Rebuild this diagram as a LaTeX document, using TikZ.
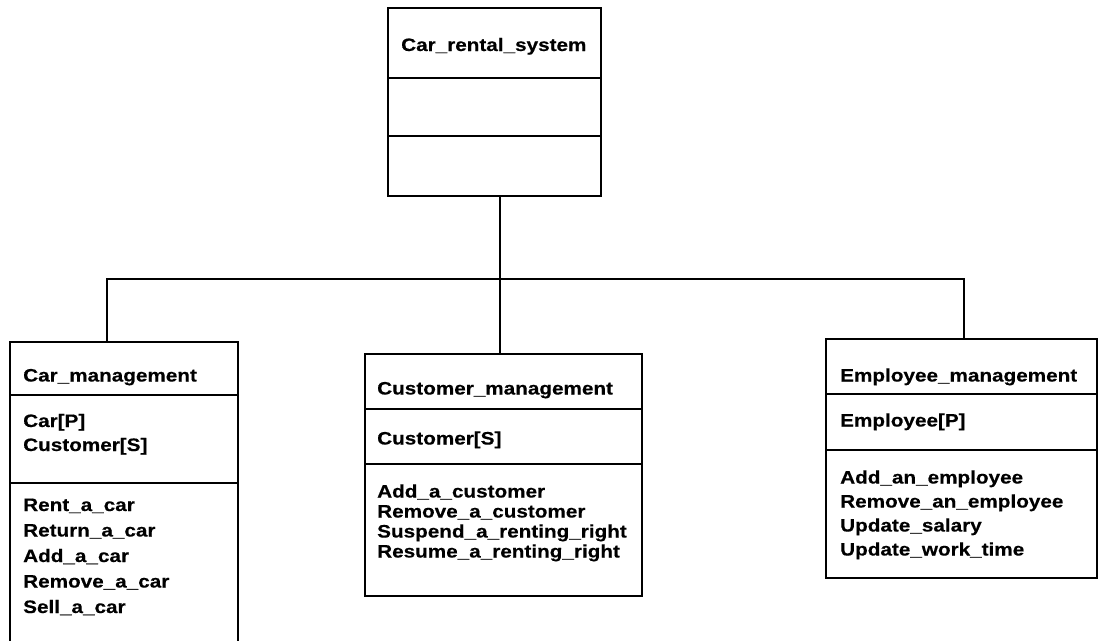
\documentclass[tikz,border=0pt]{standalone}
\usepackage{fontspec}
\newfontfamily\umlfont{Liberation Sans}[FakeStretch=1.15,FakeBold=0.4]
\begin{document}
\begin{tikzpicture}[x=1pt,y=-1pt,
  umlbox/.style={draw=black, line width=2.2pt, inner sep=0pt, anchor=north west},
  divider/.style={line width=1.9pt},
  wire/.style={line width=2pt},
  txt/.style={anchor=base west, inner sep=0pt, font=\umlfont\bfseries\fontsize{18}{20}\selectfont}]
\useasboundingbox (0,0) rectangle (1099,640);

% ---- class boxes ----
\node[umlbox, minimum width=213pt, minimum height=188pt] (sys)  at (387,7)   {};
\node[umlbox, minimum width=228pt, minimum height=300pt] (car)  at (9,341)   {};
\node[umlbox, minimum width=277pt, minimum height=242pt] (cust) at (364,353) {};
\node[umlbox, minimum width=271pt, minimum height=239pt] (emp)  at (825,338) {};

% ---- compartment dividers ----
\draw[divider] (sys.west |- 0,78)   -- (sys.east |- 0,78);
\draw[divider] (sys.west |- 0,136)  -- (sys.east |- 0,136);
\draw[divider] (car.west |- 0,395)  -- (car.east |- 0,395);
\draw[divider] (car.west |- 0,483)  -- (car.east |- 0,483);
\draw[divider] (cust.west |- 0,409) -- (cust.east |- 0,409);
\draw[divider] (cust.west |- 0,464) -- (cust.east |- 0,464);
\draw[divider] (emp.west |- 0,394)  -- (emp.east |- 0,394);
\draw[divider] (emp.west |- 0,450)  -- (emp.east |- 0,450);

% ---- texts ----
\node[txt] (sys-name) at (401,51) {Car\_rental\_system};

\node[txt] (car-name) at (23,381.5) {Car\_management};
\node[txt] (car-a1) at (23,427) {Car[P]};
\node[txt] (car-a2) at (23,451) {Customer[S]};
\node[txt] (car-o1) at (23,511)   {Rent\_a\_car};
\node[txt] (car-o2) at (23,536.5) {Return\_a\_car};
\node[txt] (car-o3) at (23,562)   {Add\_a\_car};
\node[txt] (car-o4) at (23,587.5) {Remove\_a\_car};
\node[txt] (car-o5) at (23,613)   {Sell\_a\_car};

\node[txt] (cust-name) at (377,394.5) {Customer\_management};
\node[txt] (cust-a1) at (377,444.5) {Customer[S]};
\node[txt] (cust-o1) at (377,497.5) {Add\_a\_customer};
\node[txt] (cust-o2) at (377,517.5) {Remove\_a\_customer};
\node[txt] (cust-o3) at (377,537.5) {Suspend\_a\_renting\_right};
\node[txt] (cust-o4) at (377,557.5) {Resume\_a\_renting\_right};

\node[txt] (emp-name) at (840,381.5) {Employee\_management};
\node[txt] (emp-a1) at (840,426.5) {Employee[P]};
\node[txt] (emp-o1) at (840,483.5) {Add\_an\_employee};
\node[txt] (emp-o2) at (840,507.5) {Remove\_an\_employee};
\node[txt] (emp-o3) at (840,531.5) {Update\_salary};
\node[txt] (emp-o4) at (840,555.5) {Update\_work\_time};

% ---- aggregation tree ----
\coordinate (hub) at (500,279);
\coordinate (jl)  at (107,279);
\coordinate (jr)  at (964,279);
\draw[wire] (sys.south -| hub) -- (cust.north -| hub);
\draw[wire] (car.north -| jl) -- (jl) -- (jr) -- (emp.north -| jr);
\end{tikzpicture}
\end{document}
